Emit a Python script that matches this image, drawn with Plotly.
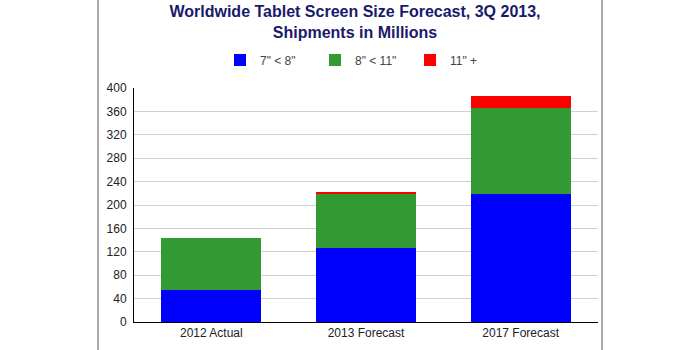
import plotly.graph_objects as go

categories = ["2012 Actual", "2013 Forecast", "2017 Forecast"]
small = [54, 126, 219]
medium = [90, 93, 147]
large = [0, 2, 21]
series_names = ['7" < 8"', '8" < 11"', '11" +']
colors = ["#0000ff", "#339933", "#ff0000"]
tick_vals = list(range(0, 401, 40))

fig = go.Figure()
for name, vals, col in zip(series_names, [small, medium, large], colors):
    fig.add_trace(go.Bar(x=categories, y=vals, name=name, marker_color=col,
                         marker_line_width=0))

fig.update_layout(
    barmode="stack",
    bargap=0.353,
    width=700, height=350,
    margin=dict(l=134, r=102, t=88, b=28, autoexpand=False),
    paper_bgcolor="white", plot_bgcolor="white",
    font=dict(family="Liberation Sans, Arial, sans-serif", size=12, color="#222"),
    title=dict(text="<b>Worldwide Tablet Screen Size Forecast, 3Q 2013,<br>Shipments in Millions</b>",
               x=355/700, xanchor="center", xref="container",
               y=1 - 17/350, yanchor="middle", yref="container",
               font=dict(size=16, color="#1a1a6b")),
    legend=dict(orientation="h", x=220/700, xanchor="left", xref="container",
                y=1 - 60/350, yanchor="middle", yref="container",
                font=dict(size=12, color="#444"), traceorder="normal",
                bgcolor="rgba(0,0,0,0)",
                entrywidth=50, entrywidthmode="pixels"),
    showlegend=True,
    yaxis=dict(range=[0, 400], tickvals=tick_vals, showgrid=True, gridcolor="#d0d0d0",
               showline=True, linecolor="black", linewidth=1, ticks="", zeroline=False,
               ticklabelstandoff=4, automargin=False,
               tickfont=dict(size=12, color="#222")),
    xaxis=dict(showline=True, linecolor="black", linewidth=1, ticks="",
               automargin=False,
               tickfont=dict(size=12, color="#222")),
    shapes=[
        dict(type="line", xref="paper", yref="paper", x0=-(134-98)/464, x1=-(134-98)/464,
             y0=-40/233.7, y1=100/233.7 + 1, line=dict(color="#aaaaaa", width=2)),
        dict(type="line", xref="paper", yref="paper", x0=1 + 4/464, x1=1 + 4/464,
             y0=-40/233.7, y1=100/233.7 + 1, line=dict(color="#aaaaaa", width=2)),
    ],
)

fig.write_html("out.html")
